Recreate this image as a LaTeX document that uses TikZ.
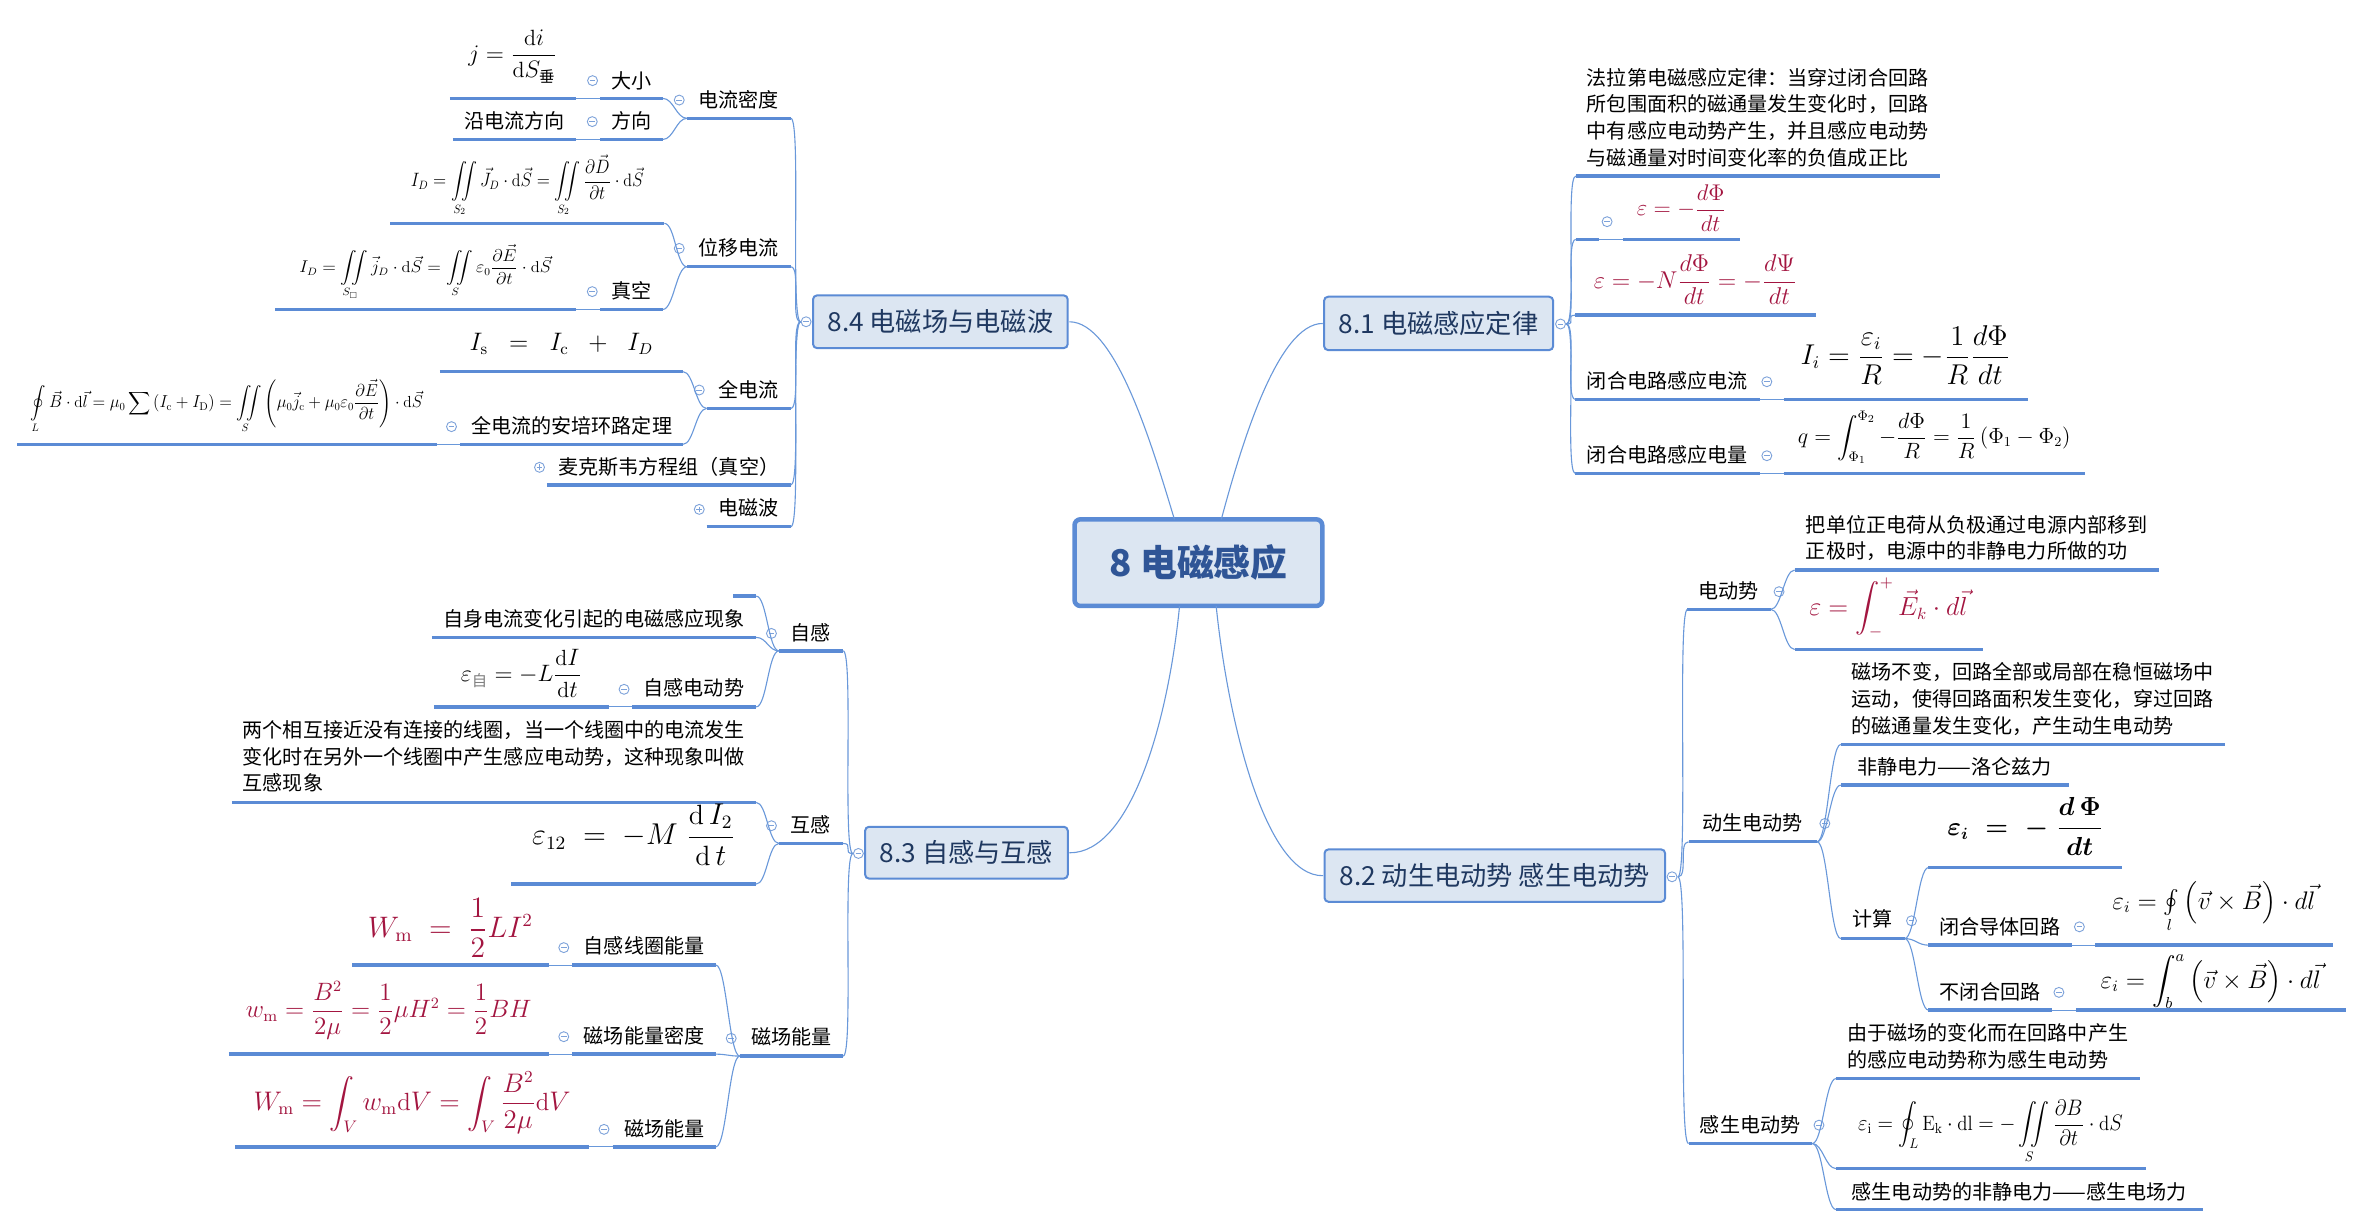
\documentclass[tikz,border=0pt]{standalone}
\usepackage{amsmath,amssymb}
\usepackage{graphicx}
\usepackage{fontspec}
\newfontfamily\cjk{Noto Sans CJK SC}
\definecolor{ulc}{RGB}{91,139,213}
\definecolor{cnc}{RGB}{105,152,218}
\definecolor{mkc}{RGB}{125,162,218}
\definecolor{bxf}{RGB}{220,230,242}
\definecolor{bxd}{RGB}{91,139,213}
\definecolor{bxt}{RGB}{31,56,96}
\definecolor{ctt}{RGB}{47,85,150}
\definecolor{eqred}{RGB}{163,21,64}
\tikzset{
 uline/.style={draw=ulc,line width=3.4pt},
 conn/.style={draw=cnc,line width=1.1pt},
 lk/.style={conn,out=180,in=0,distance=7pt},
 rk/.style={conn,out=0,in=180,distance=7pt},
 tpn/.style={inner sep=0pt,font=\cjk\fontsize{13.33}{17.65}\selectfont,
   append after command={(\tikzlastnode.south west) edge[uline] (\tikzlastnode.south east)}},
 mk/.style={circle,draw=mkc,fill=white,line width=0.9pt,minimum size=6.6pt,inner sep=0pt,
   path picture={\draw[mkc,line width=0.8pt] ([xshift=-1.9pt]path picture bounding box.center) -- ([xshift=1.9pt]path picture bounding box.center);}},
 mkp/.style={circle,draw=mkc,fill=white,line width=0.9pt,minimum size=6.6pt,inner sep=0pt,
   path picture={\draw[mkc,line width=0.8pt] ([xshift=-1.9pt]path picture bounding box.center) -- ([xshift=1.9pt]path picture bounding box.center) ([yshift=-1.9pt]path picture bounding box.center) -- ([yshift=1.9pt]path picture bounding box.center);}},
 sbox/.style={rectangle,rounded corners=4pt,fill=bxf,draw=bxd,line width=2pt,inner sep=0pt,text=bxt,font=\cjk\fontsize{17.4}{20}\selectfont},
 cbox/.style={rectangle,rounded corners=6pt,fill=bxf,draw=bxd,line width=4.5pt,inner sep=0pt,text=ctt,font=\cjk\bfseries\fontsize{24.4}{28}\selectfont},
}
% topic node: [opts]{name}{x1}{x2}{y of underline}{y of text centre}{content}
\newcommand\tpc[7][]{\node[tpn,#1,minimum width={#4-#3},minimum height={2*(#5-#6)},anchor=south] (#2) at ({(#3+#4)/2},#5) {#7};}
\newcommand\eqz[2]{\resizebox{#1pt}{!}{#2}}
\newcommand\eqb[3]{\resizebox*{#1pt}{#2pt}{#3}}
\begin{document}
\begin{tikzpicture}[x=1pt,y=-1pt,scale=1.507,transform shape]
\useasboundingbox (0,0) rectangle (1568,814);
\fill[white] (0,0) rectangle (1568,814);

% ---------- main boxes ----------
\node[cbox,minimum width=164.4pt,minimum height=57.5pt] (ctr) at (795.2,373.35) {8 电磁感应};
\node[sbox,minimum width=169pt,minimum height=35pt] (b84) at (624,213.5) {8.4 电磁场与电磁波};
\node[sbox,minimum width=152pt,minimum height=35.4pt] (b81) at (954.6,214.6) {8.1 电磁感应定律};
\node[sbox,minimum width=134.5pt,minimum height=34.4pt] (b83) at (641.3,565.8) {8.3 自感与互感};
\node[sbox,minimum width=226pt,minimum height=34.8pt] (b82) at (991.9,581) {8.2 动生电动势 感生电动势};
\coordinate (ct1) at (779.2,344.6);
\coordinate (ct2) at (810.3,344.6);
\coordinate (cb1) at (782.6,402.1);
\coordinate (cb2) at (806.9,402.1);
\draw[conn] (ct1) .. controls (764,294) and (740,213.5) .. (b84.east);
\draw[conn] (ct2) .. controls (824,294) and (848,214.6) .. (b81.west);
\draw[conn] (cb1) .. controls (775,480) and (750,566.3) .. (b83.east);
\draw[conn] (cb2) .. controls (815,480) and (840,581.8) .. (b82.west);

% ---------- 8.4 ----------
\tpc{dl}{456}{524.5}{78.5}{66.4}{电流密度}
\tpc{dx}{398.5}{439.6}{65.3}{53.6}{大小}
\tpc{fx}{398.5}{439.6}{92.5}{80.5}{方向}
\tpc{fa}{298.6}{382}{65.3}{37.6}{\eqz{59}{$j=\dfrac{\mathrm{d}i}{\mathrm{d}S_{\text{垂}}}$}}
\tpc{yx}{300.7}{382}{92.5}{80.5}{沿电流方向}
\tpc{wy}{456}{524.5}{177}{164.8}{位移电流}
\tpc{fb}{259}{440.6}{148.2}{123.5}{\eqb{154.4}{41}{$\displaystyle I_D=\iint\limits_{S_2}\vec{J}_D\cdot\mathrm{d}\vec{S}=\iint\limits_{S_2}\frac{\partial\vec{D}}{\partial t}\cdot\mathrm{d}\vec{S}$}}
\tpc{zk}{398.5}{439.6}{205.3}{193.3}{真空}
\tpc{fc}{182.7}{382}{205.3}{180.8}{\eqb{167.5}{36.4}{$\displaystyle I_D=\iint\limits_{S_{\square}}\vec{j}_D\cdot\mathrm{d}\vec{S}=\iint\limits_{S}\varepsilon_0\frac{\partial\vec{E}}{\partial t}\cdot\mathrm{d}\vec{S}$}}
\tpc{qd}{469}{524.5}{271}{258.7}{全电流}
\tpc{fd}{292}{453}{246.6}{228.4}{\eqz{121.6}{$I_{\mathrm{s}}\;\;=\;\;I_{\mathrm{c}}\;\;+\;\;I_D$}}
\tpc{ap}{305.7}{453}{294.8}{282.6}{全电流的安培环路定理}
\tpc{fe}{11.5}{289.6}{294.8}{269.8}{\eqb{260}{35.5}{$\displaystyle\oint\limits_L\vec{B}\cdot\mathrm{d}\vec{l}=\mu_0\sum\left(I_{\mathrm{c}}+I_{\mathrm{D}}\right)=\iint\limits_S\left(\mu_0\vec{j}_{\mathrm{c}}+\mu_0\varepsilon_0\frac{\partial\vec{E}}{\partial t}\right)\cdot\mathrm{d}\vec{S}$}}
\tpc{mx}{363}{524.5}{321.8}{310}{麦克斯韦方程组（真空）}
\tpc{db}{469}{524.5}{349.5}{337.3}{电磁波}
\node[mk] (m84) at (534.9,213.5) {};
\node[mk] (mdl) at (450.7,66.4) {};
\node[mk] (mdx) at (393.2,53.5) {};
\node[mk] (mfx) at (393,80.7) {};
\node[mk] (mwy) at (450.7,164.8) {};
\node[mk] (mzk) at (393,193.5) {};
\node[mk] (mqd) at (464,258.8) {};
\node[mk] (map) at (299.6,283.1) {};
\node[mkp] (mmx) at (358,310.1) {};
\node[mkp] (mdb) at (464,338) {};
\foreach \c in {dl,wy,qd,mx,db} \draw[lk] (m84.west) to (\c.south east);
\draw[lk] (dl.south west) to (dx.south east);
\draw[lk] (dl.south west) to (fx.south east);
\draw[lk] (dx.south west) to (fa.south east);
\draw[lk] (fx.south west) to (yx.south east);
\draw[lk] (wy.south west) to (fb.south east);
\draw[lk] (wy.south west) to (zk.south east);
\draw[lk] (zk.south west) to (fc.south east);
\draw[lk] (qd.south west) to (fd.south east);
\draw[lk] (qd.south west) to (ap.south east);
\draw[lk] (ap.south west) to (fe.south east);

% ---------- 8.3 ----------
\tpc{zg}{517}{559.2}{431.8}{419.9}{自感}
\tpc{ee}{486.7}{501.5}{395.5}{394.5}{}
\tpc{zs}{286.7}{501.5}{422.9}{410.9}{自身电流变化引起的电磁感应现象}
\tpc{zd}{419.4}{501.5}{469}{456.5}{自感电动势}
\tpc{ff}{288}{403.7}{469}{447.3}{\eqz{80}{$\varepsilon_{\text{\color{gray}自}}=-L\dfrac{\mathrm{d}I}{\mathrm{d}t}$}}
\tpc{hg}{517}{559.2}{559.6}{547.5}{互感}
\tpc[align=left]{hs}{154}{501.5}{532.4}{502.1}{两个相互接近没有连接的线圈，当一个线圈中的电流发生\\变化时在另外一个线圈中产生感应电动势，这种现象叫做\\互感现象}
\tpc{fg}{339.5}{501.5}{586.6}{554.1}{\eqz{134.7}{$\varepsilon_{12}\;=\;-M\;\dfrac{\mathrm{d}\,I_2}{\mathrm{d}\,t}$}}
\tpc{cn}{491}{559.2}{700.7}{688.4}{磁场能量}
\tpc{xq}{380}{474.8}{640.3}{628.1}{自感线圈能量}
\tpc{md}{380}{474.8}{699.4}{687.3}{磁场能量密度}
\tpc{nl}{406.7}{474.8}{760.9}{749}{磁场能量}
\tpc[text=eqred]{fh}{234}{363.8}{640.3}{616}{\eqz{109.6}{$W_{\mathrm{m}}\;=\;\dfrac{1}{2}LI^2$}}
\tpc[text=eqred]{fi}{152}{363.8}{699.4}{670.8}{\eqz{189.6}{$w_{\mathrm{m}}=\dfrac{B^2}{2\mu}=\dfrac{1}{2}\mu H^2=\dfrac{1}{2}BH$}}
\tpc[text=eqred]{fj}{156.4}{390.4}{760.9}{732.1}{\eqz{210.3}{$W_{\mathrm{m}}=\displaystyle\int_V w_{\mathrm{m}}\mathrm{d}V=\int_V\frac{B^2}{2\mu}\mathrm{d}V$}}
\node[mk] (m83) at (569.6,566.3) {};
\node[mk] (mzg) at (511.9,420.3) {};
\node[mk] (mzd) at (414.1,457.4) {};
\node[mk] (mhg) at (511.9,547.9) {};
\node[mk] (mcn) at (485.2,689) {};
\node[mk] (mxq) at (374.1,628.8) {};
\node[mk] (mmd) at (374.1,687.9) {};
\node[mk] (mnl) at (400.8,749.4) {};
\foreach \c in {zg,hg,cn} \draw[lk] (m83.west) to (\c.south east);
\foreach \c in {ee,zs,zd} \draw[lk] (zg.south west) to (\c.south east);
\draw[lk] (zd.south west) to (ff.south east);
\draw[lk] (hg.south west) to (hs.south east);
\draw[lk] (hg.south west) to (fg.south east);
\foreach \c in {xq,md,nl} \draw[lk] (cn.south west) to (\c.south east);
\draw[lk] (xq.south west) to (fh.south east);
\draw[lk] (md.south west) to (fi.south east);
\draw[lk] (nl.south west) to (fj.south east);

% ---------- 8.1 ----------
\tpc[align=left]{ta}{1045.7}{1286.8}{116.8}{78.2}{法拉第电磁感应定律：当穿过闭合回路\\所包围面积的磁通量发生变化时，回路\\中有感应电动势产生，并且感应电动势\\与磁通量对时间变化率的负值成正比}
\tpc{ea}{1045.7}{1060.5}{158.8}{157.8}{}
\tpc[text=eqred]{fk}{1077.3}{1154.4}{158.8}{138.3}{\eqz{59.3}{$\varepsilon=-\dfrac{d\Phi}{dt}$}}
\tpc[text=eqred]{fl}{1045.4}{1204.6}{209.1}{185.8}{\eqz{134.7}{$\varepsilon=-N\dfrac{d\Phi}{dt}=-\dfrac{d\Psi}{dt}$}}
\tpc{bl}{1045.4}{1167.3}{265}{252.8}{闭合电路感应电流}
\tpc{fm}{1183.6}{1345}{265}{235.6}{\eqz{139}{$I_i=\dfrac{\varepsilon_i}{R}=-\dfrac{1}{R}\dfrac{d\Phi}{dt}$}}
\tpc{bq}{1045.4}{1167.3}{314.1}{302}{闭合电路感应电量}
\tpc{fn}{1183.6}{1383.3}{314.1}{290.4}{\eqz{181}{$q=\displaystyle\int_{\Phi_1}^{\Phi_2}-\frac{d\Phi}{R}=\frac{1}{R}\left(\Phi_1-\Phi_2\right)$}}
\node[mk] (m81) at (1035.5,215) {};
\node[mk] (mea) at (1066.4,147.1) {};
\node[mk] (mbl) at (1172.4,253.3) {};
\node[mk] (mbq) at (1172.4,302.4) {};
\foreach \c in {ta,ea,fl,bl,bq} \draw[rk] (m81.east) to (\c.south west);
\draw[rk] (ea.south east) to (fk.south west);
\draw[rk] (bl.south east) to (fm.south west);
\draw[rk] (bq.south east) to (fn.south west);

% ---------- 8.2 ----------
\tpc{dd}{1119.8}{1174.7}{404.3}{392.6}{电动势}
\tpc[align=left]{tb}{1190.9}{1432.4}{378.2}{357.2}{把单位正电荷从负极通过电源内部移到\\正极时，电源中的非静电力所做的功}
\tpc[text=eqred]{fo}{1190.9}{1315.2}{430.9}{403.7}{\eqz{105}{$\varepsilon=\displaystyle\int_-^+\vec{E}_k\cdot d\vec{l}$}}
\tpc{ds}{1120.5}{1205.4}{558.5}{546.4}{动生电动势}
\tpc[align=left]{tc}{1221.5}{1476}{493.9}{464}{磁场不变，回路全部或局部在稳恒磁场中\\运动，使得回路面积发生变化，穿过回路\\的磁通量发生变化，产生动生电动势}
\tpc{fz}{1221.5}{1372.3}{520.9}{509.3}{非静电力——洛仑兹力}
\tpc{js}{1221.5}{1263.5}{622.7}{610}{计算}
\tpc{fp}{1279.7}{1407.9}{575.6}{548.6}{\eqz{103.3}{\mathversion{bold}$\varepsilon_i\;=\;-\;\dfrac{d\,\Phi}{dt}$}}
\tpc{bd}{1279.7}{1374.3}{627.1}{615.5}{闭合导体回路}
\tpc{fq}{1390.4}{1547.7}{627.1}{602.3}{\eqz{134.7}{$\varepsilon_i=\oint\limits_l\left(\vec{v}\times\vec{B}\right)\cdot d\vec{l}$}}
\tpc{bb}{1279.7}{1361.4}{670.2}{658.6}{不闭合回路}
\tpc{fr}{1377.5}{1556.4}{670.2}{651.5}{\eqz{146}{$\varepsilon_i=\displaystyle\int_b^a\left(\vec{v}\times\vec{B}\right)\cdot d\vec{l}$}}
\tpc{gs}{1120.5}{1202.2}{758.7}{746.5}{感生电动势}
\tpc[align=left]{td}{1218.3}{1419.5}{715.6}{694.5}{由于磁场的变化而在回路中产生\\的感应电动势称为感生电动势}
\tpc{fs}{1218.3}{1423.3}{775.3}{751}{\eqb{175.6}{42}{$\displaystyle\varepsilon_{\mathrm{i}}=\oint_L\mathrm{E}_{\mathrm{k}}\cdot\mathrm{dl}=-\iint\limits_S\frac{\partial B}{\partial t}\cdot\mathrm{d}S$}}
\tpc{gf}{1218.3}{1461.5}{802.5}{790.8}{感生电动势的非静电力——感生电场力}
\node[mk] (m82) at (1109.5,581.8) {};
\node[mk] (mdd) at (1180.5,392.6) {};
\node[mk] (mds) at (1210.9,546.4) {};
\node[mk] (mjs) at (1268.4,611) {};
\node[mk] (mbd) at (1379.8,615) {};
\node[mk] (mbb) at (1366.2,658.5) {};
\node[mk] (mgs) at (1207,746.6) {};
\foreach \c in {dd,ds,gs} \draw[rk] (m82.east) to (\c.south west);
\draw[rk] (dd.south east) to (tb.south west);
\draw[rk] (dd.south east) to (fo.south west);
\foreach \c in {tc,fz,js} \draw[rk] (ds.south east) to (\c.south west);
\foreach \c in {fp,bd,bb} \draw[rk] (js.south east) to (\c.south west);
\draw[rk] (bd.south east) to (fq.south west);
\draw[rk] (bb.south east) to (fr.south west);
\foreach \c in {td,fs,gf} \draw[rk] (gs.south east) to (\c.south west);
\end{tikzpicture}
\end{document}
